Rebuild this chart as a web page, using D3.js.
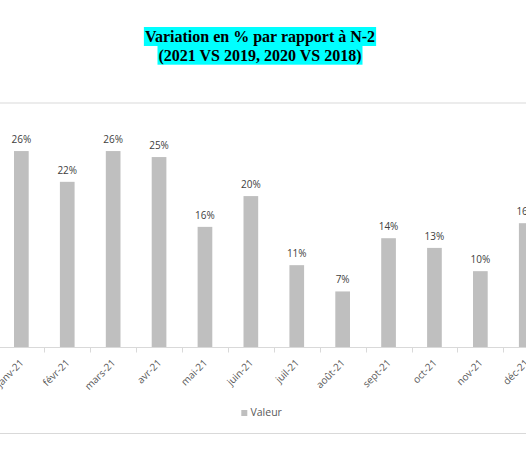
<!DOCTYPE html>
<html>
<head>
<meta charset="utf-8">
<script src="https://cdn.jsdelivr.net/npm/d3@7"></script>
<style>
  body { margin: 0; background: #fff; }
  svg { display: block; }
</style>
</head>
<body>
<svg id="chart"></svg>
<script>
// data
const months = ['janv-21', 'févr-21', 'mars-21', 'avr-21', 'mai-21', 'juin-21',
  'juil-21', 'août-21', 'sept-21', 'oct-21', 'nov-21', 'déc-21']
const values = [0.261, 0.22, 0.261, 0.253, 0.16, 0.201, 0.109, 0.074, 0.1449, 0.132, 0.101, 0.1649]
const titleLines = ['Variation en % par rapport à N-2', '(2021 VS 2019, 2020 VS 2018)']
const seriesName = 'Valeur'

const w = 526
const h = 459
const plot = { left: -1.6, right: 549.2, top: 103, bottom: 347 }

const svg = d3.select('#chart')
  .attr('width', w)
  .attr('height', h)

const xScale = d3.scaleBand()
  .domain(months)
  .range([plot.left, plot.right])
  .paddingInner(0.68)
  .paddingOuter(0.34)

const yScale = d3.scaleLinear()
  .domain([0, 0.325])
  .range([plot.bottom, plot.top])

// frame lines (top gridline and bottom border)
svg.append('line')
  .attr('x1', 0).attr('x2', w)
  .attr('y1', yScale(0.325)).attr('y2', yScale(0.325))
  .attr('stroke', '#d9d9d9').attr('stroke-width', 1)
svg.append('line')
  .attr('x1', 0).attr('x2', w)
  .attr('y1', 433.5).attr('y2', 433.5)
  .attr('stroke', '#d9d9d9').attr('stroke-width', 1)

// bars
svg.append('g')
  .selectAll('rect')
  .data(values)
  .join('rect')
  .attr('x', (d, i) => xScale(months[i]))
  .attr('y', d => yScale(d))
  .attr('width', xScale.bandwidth())
  .attr('height', d => yScale(0) - yScale(d))
  .attr('fill', '#bfbfbf')

// data labels
const pct = d3.format('.0%')
svg.append('g')
  .selectAll('text')
  .data(values)
  .join('text')
  .attr('x', (d, i) => xScale(months[i]) + xScale.bandwidth() / 2)
  .attr('y', d => yScale(d) - 8)
  .attr('text-anchor', 'middle')
  .style('font-family', '"Open Sans", sans-serif')
  .style('font-size', '10px')
  .attr('fill', '#404040')
  .text(d => pct(d))

// x axis with ticks between categories
const xAxis = svg.append('g')
  .attr('transform', `translate(0, ${plot.bottom + 0.5})`)
xAxis.append('line')
  .attr('x1', 0).attr('x2', w)
  .attr('stroke', '#d9d9d9')
xAxis.selectAll('.tick')
  .data(months.slice(1))
  .join('line')
  .attr('class', 'tick')
  .attr('x1', d => Math.round(xScale(d) - xScale.step() * xScale.paddingInner() / 2) + 0.5)
  .attr('x2', d => Math.round(xScale(d) - xScale.step() * xScale.paddingInner() / 2) + 0.5)
  .attr('y1', 0).attr('y2', 5)
  .attr('stroke', '#d9d9d9')
xAxis.selectAll('text')
  .data(months)
  .join('text')
  .attr('transform', d => `translate(${xScale(d) + xScale.bandwidth() / 2 + 3}, 16) rotate(-45)`)
  .attr('text-anchor', 'end')
  .style('font-family', '"Open Sans", sans-serif')
  .style('font-size', '10px')
  .attr('fill', '#595959')
  .text(d => d)

// title with cyan highlight
const title = svg.append('g')
titleLines.forEach((line, i) => {
  const t = title.append('text')
    .attr('x', 260)
    .attr('y', 42 + i * 18.5)
    .attr('text-anchor', 'middle')
    .style('font-family', '"Liberation Serif", "Times New Roman", serif')
    .style('font-weight', 'bold')
    .style('font-size', '16px')
    .attr('fill', '#000')
    .text(line)
  const len = t.node().getComputedTextLength()
  title.insert('rect', 'text')
    .attr('x', 260 - len / 2 - 1)
    .attr('y', 27 + i * 18.7)
    .attr('width', len + 2)
    .attr('height', 19)
    .attr('fill', '#00ffff')
})

// legend
const legend = svg.append('g')
legend.append('rect')
  .attr('x', 241.3).attr('y', 410)
  .attr('width', 6).attr('height', 6)
  .attr('fill', '#bfbfbf')
legend.append('text')
  .attr('x', 250.5).attr('y', 416)
  .style('font-family', '"Open Sans", sans-serif')
  .style('font-size', '10.5px')
  .attr('fill', '#595959')
  .text(seriesName)
</script>
</body>
</html>
